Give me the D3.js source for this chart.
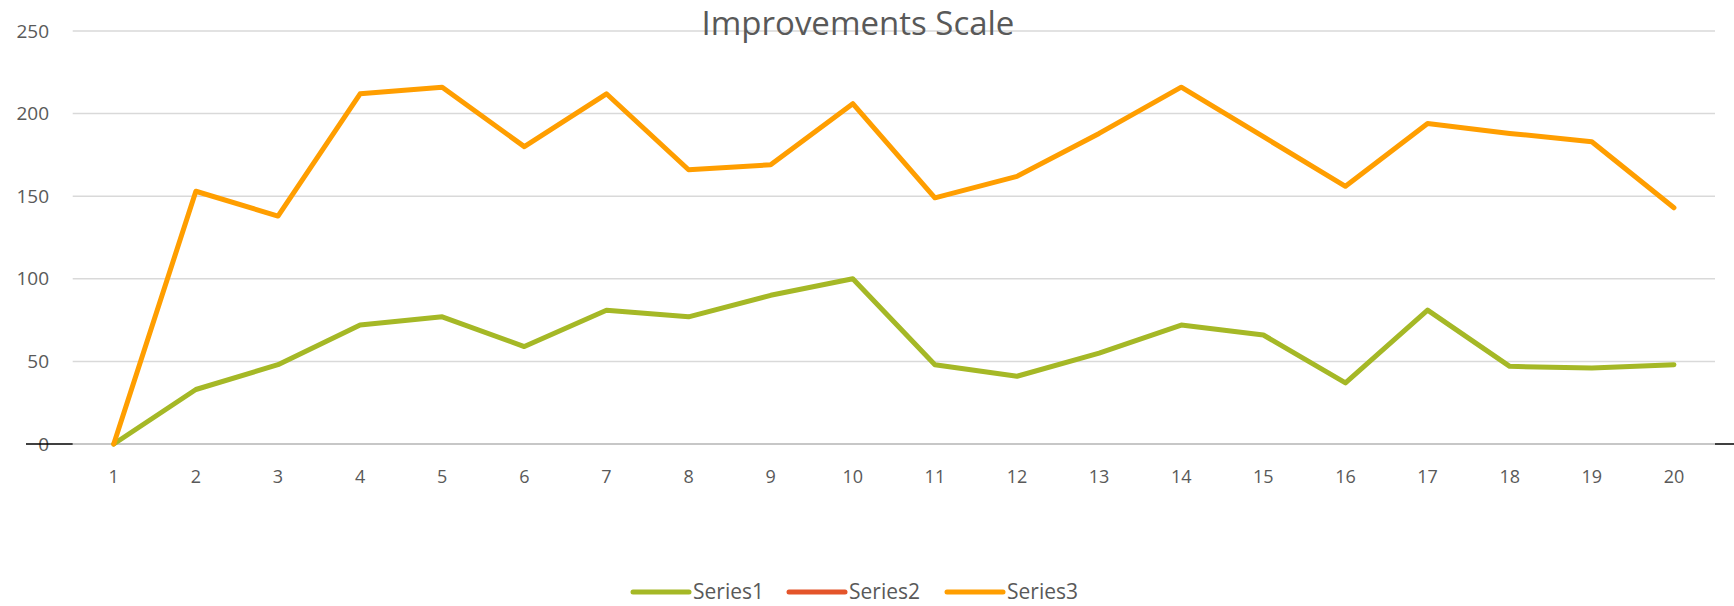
<!DOCTYPE html>
<html>
<head>
<meta charset="utf-8">
<script src="https://cdn.jsdelivr.net/npm/d3@7"></script>
<style>
  body { margin: 0; background: #fff; }
  svg text { font-family: "Open Sans", Lato, sans-serif; fill: #595959; }
</style>
</head>
<body>
<div id="chart"></div>
<script>
// chart data
var categories = d3.range(1, 21).map(String);
var series1 = [0, 33, 48, 72, 77, 59, 81, 77, 90, 100, 48, 41, 55, 72, 66, 37, 81, 47, 46, 48];
var series2 = [];
var series3 = [0, 153, 138, 212, 216, 180, 212, 166, 169, 206, 149, 162, 188, 216, 186, 156, 194, 188, 183, 143];
var yTicks = [0, 50, 100, 150, 200, 250];
var seriesNames = ["Series1", "Series2", "Series3"];
var seriesColors = ["#a5b826", "#e4542a", "#ff9e00"];

var width = 1734, height = 606;
var plot = { left: 72.7, right: 1715, top: 31, bottom: 444 };

var svg = d3.select("#chart").append("svg")
  .attr("width", width)
  .attr("height", height);

var x = d3.scalePoint()
  .domain(categories)
  .range([plot.left, plot.right])
  .padding(0.5);

var y = d3.scaleLinear()
  .domain([0, 250])
  .range([plot.bottom, plot.top]);

// gridlines
svg.append("g")
  .selectAll("line")
  .data(yTicks.slice(1))
  .enter()
  .append("line")
  .attr("x1", plot.left)
  .attr("x2", plot.right)
  .attr("y1", function(d) { return y(d); })
  .attr("y2", function(d) { return y(d); })
  .attr("stroke", "#d9d9d9")
  .attr("stroke-width", 1.5);

// y labels
svg.append("g")
  .selectAll("text")
  .data(yTicks)
  .enter()
  .append("text")
  .attr("x", 49)
  .attr("y", function(d) { return y(d); })
  .attr("dy", "0.35em")
  .attr("text-anchor", "end")
  .style("font-size", "19px")
  .text(function(d) { return d; });

// title
svg.append("text")
  .attr("x", 858)
  .attr("y", 35)
  .attr("text-anchor", "middle")
  .style("font-size", "33px")
  .text("Improvements Scale");

// baseline with its black ends
svg.append("line")
  .attr("x1", plot.left).attr("x2", plot.right)
  .attr("y1", y(0)).attr("y2", y(0))
  .attr("stroke", "#b4b4b4")
  .attr("stroke-width", 1.5);
svg.append("line")
  .attr("x1", 26).attr("x2", plot.left)
  .attr("y1", y(0)).attr("y2", y(0))
  .attr("stroke", "#000")
  .attr("stroke-width", 1.5);
svg.append("line")
  .attr("x1", plot.right).attr("x2", width)
  .attr("y1", y(0)).attr("y2", y(0))
  .attr("stroke", "#000")
  .attr("stroke-width", 1.5);

// x labels
svg.append("g")
  .selectAll("text")
  .data(categories)
  .enter()
  .append("text")
  .attr("x", function(d) { return x(d); })
  .attr("y", 477)
  .attr("dy", "0.35em")
  .attr("text-anchor", "middle")
  .style("font-size", "18px")
  .text(function(d) { return d; });

// lines
var line = d3.line()
  .defined(function(d) { return d != null; })
  .x(function(d, i) { return x(categories[i]); })
  .y(function(d) { return y(d); });

[series1, series2, series3].forEach(function(values, i) {
  svg.append("path")
    .datum(values)
    .attr("d", line)
    .attr("fill", "none")
    .attr("stroke", seriesColors[i])
    .attr("stroke-width", 5)
    .attr("stroke-linejoin", "round")
    .attr("stroke-linecap", "round");
});

// legend
var legendX = [633, 789, 947];
var legend = svg.append("g")
  .selectAll("g")
  .data(seriesNames)
  .enter()
  .append("g")
  .attr("transform", function(d, i) { return "translate(" + legendX[i] + ",592)"; });

legend.append("line")
  .attr("x1", 0).attr("x2", 56)
  .attr("stroke", function(d, i) { return seriesColors[i]; })
  .attr("stroke-width", 5)
  .attr("stroke-linecap", "round");

legend.append("text")
  .attr("x", 60)
  .attr("dy", "0.35em")
  .style("font-size", "21px")
  .text(function(d) { return d; });
</script>
</body>
</html>
